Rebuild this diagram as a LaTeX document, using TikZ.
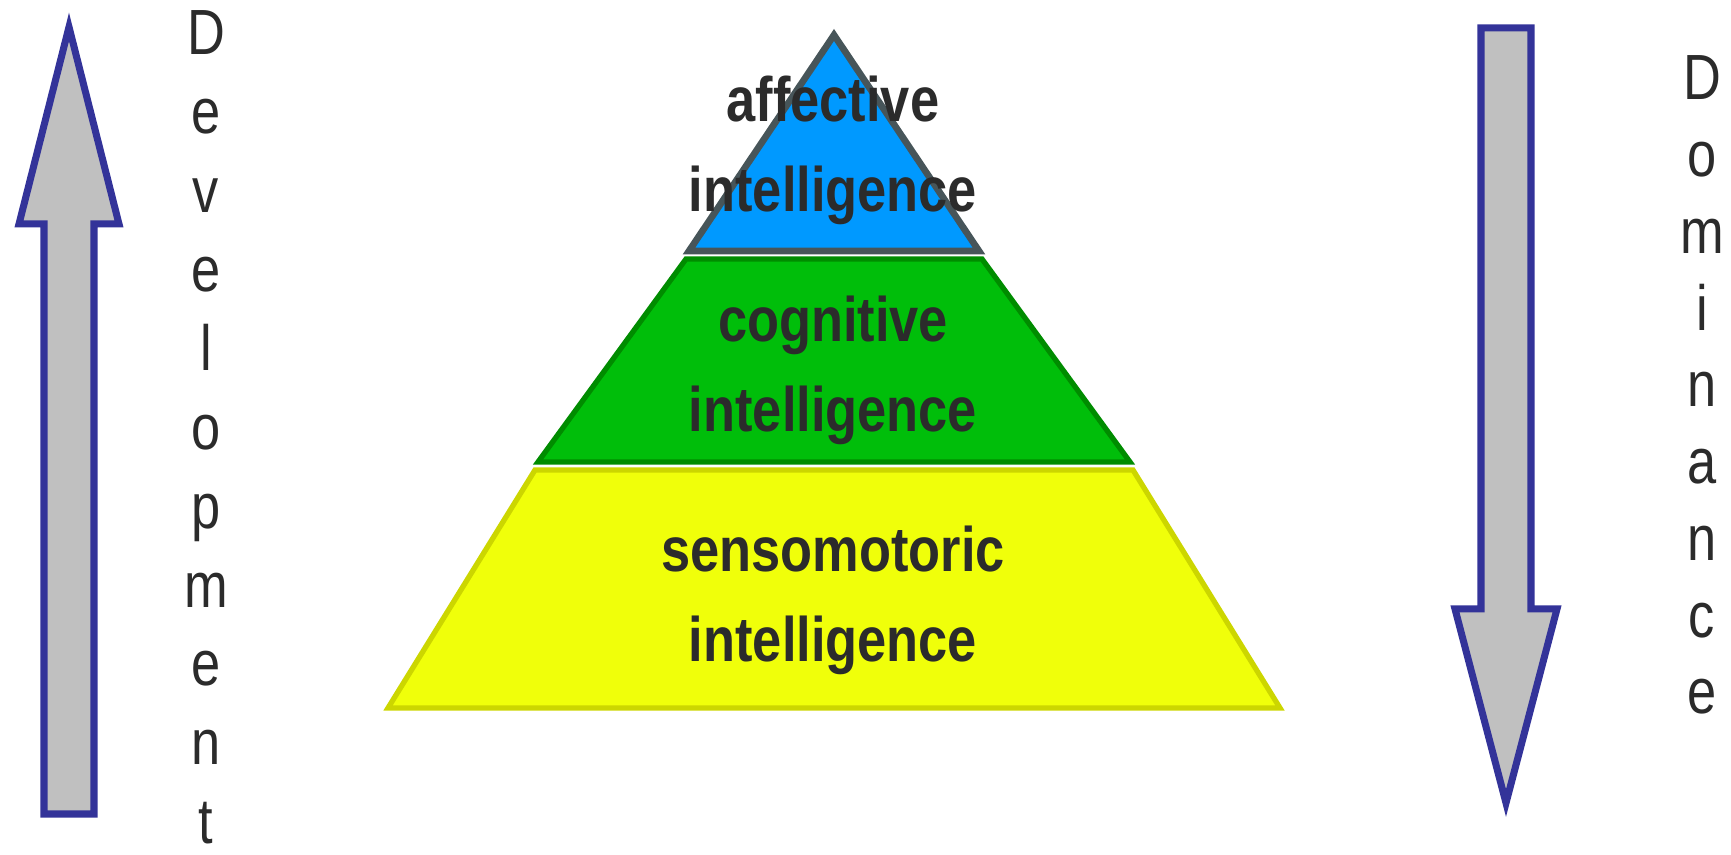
\documentclass[tikz,border=0pt]{standalone}
\usepackage{fontspec}
\setmainfont{Liberation Sans}
\usepackage{tikz}

\definecolor{arrowline}{RGB}{51,51,153}
\definecolor{arrowfill}{RGB}{192,192,192}
\definecolor{topfill}{RGB}{0,153,255}
\definecolor{topline}{RGB}{71,85,89}
\definecolor{midfill}{RGB}{0,190,10}
\definecolor{midline}{RGB}{0,140,0}
\definecolor{lowfill}{RGB}{240,255,10}
\definecolor{lowline}{RGB}{204,214,0}
\definecolor{txtgray}{RGB}{43,43,43}

\begin{document}
\begin{tikzpicture}[
    bigarrow/.style={draw=arrowline, fill=arrowfill, line width=2pt},
    layer/.style={line width=1.5pt},
    layertext/.style={anchor=north, inner sep=0pt, align=center, text=txtgray,
        font=\bfseries\fontsize{14.9}{21.3}\selectfont, yscale=1.2, transform shape},
    sidetext/.style={anchor=north, inner sep=0pt, align=center, text=txtgray,
        yscale=1.22, transform shape}
]
\useasboundingbox (0,0) rectangle (17.31,8.55);

% arrows
\draw[bigarrow] (0.69,8.28) -- (1.19,6.31) -- (0.94,6.31) -- (0.94,0.41) -- (0.44,0.41) -- (0.44,6.31) -- (0.19,6.31) -- cycle;
\draw[bigarrow] (14.81,8.27) -- (15.31,8.27) -- (15.31,2.46) -- (15.57,2.46) -- (15.06,0.52) -- (14.55,2.46) -- (14.81,2.46) -- cycle;

% pyramid
\draw[layer, draw=lowline, fill=lowfill] (5.35,3.85) -- (11.33,3.85) -- (12.80,1.47) -- (3.88,1.47) -- cycle;
\draw[layer, draw=midline, fill=midfill] (6.86,5.96) -- (9.82,5.96) -- (11.30,3.93) -- (5.38,3.93) -- cycle;
\draw[layer, line width=1.9pt, draw=topline, fill=topfill] (8.34,8.20) -- (9.79,6.04) -- (6.89,6.04) -- cycle;

\node[layertext] (affective) at (8.33,7.80) {affective\\intelligence};
\node[layertext] (cognitive) at (8.33,5.60) {cognitive\\intelligence};
\node[layertext] (sensomotoric) at (8.33,3.30) {sensomotoric\\intelligence};

% side labels
\node[sidetext, font=\fontsize{14.9}{18.4}\selectfont] (development) at (2.06,8.45)
    {D\\e\\v\\e\\l\\o\\p\\m\\e\\n\\t};
\node[sidetext, font=\fontsize{14.9}{17.9}\selectfont] (dominance) at (17.02,8.00)
    {D\\o\\m\\i\\n\\a\\n\\c\\e};
\end{tikzpicture}
\end{document}
